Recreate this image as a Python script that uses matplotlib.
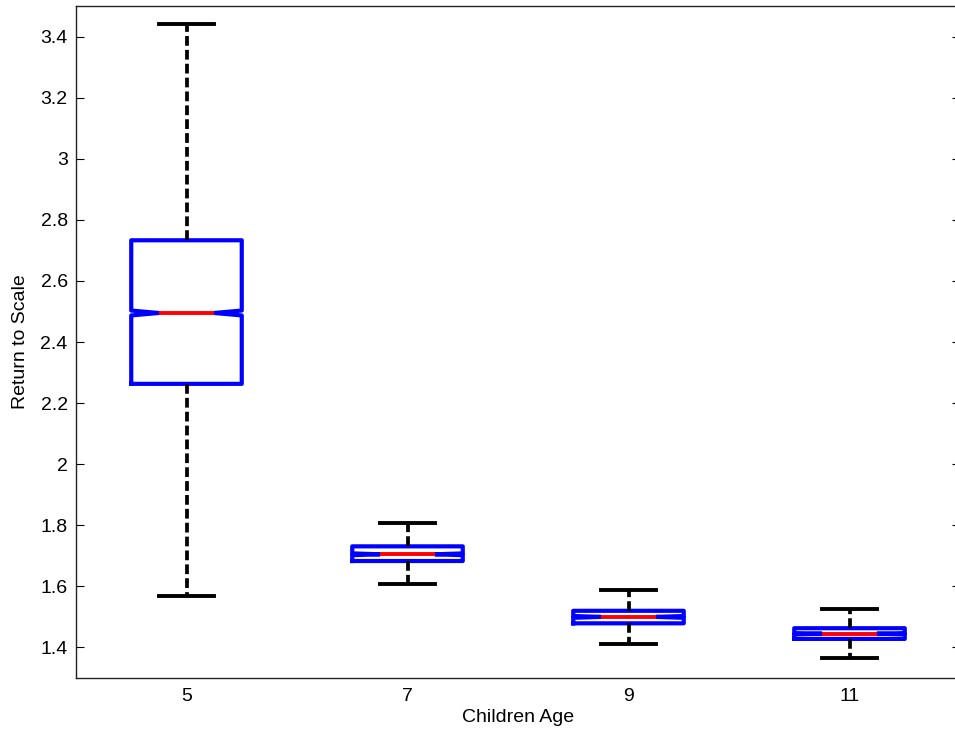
import matplotlib.pyplot as plt

plt.rcParams['font.family'] = ['Liberation Sans', 'DejaVu Sans']

ages = ['5', '7', '9', '11']
medians = [2.495, 1.705, 1.500, 1.445]
q1 = [2.263, 1.683, 1.479, 1.428]
q3 = [2.733, 1.731, 1.520, 1.463]
whisker_low = [1.567, 1.608, 1.412, 1.365]
whisker_high = [3.440, 1.806, 1.587, 1.525]
notch_low = [2.487, 1.702, 1.497, 1.443]
notch_high = [2.503, 1.708, 1.503, 1.447]

stats = []
for i in range(len(ages)):
    stats.append({'med': medians[i], 'q1': q1[i], 'q3': q3[i],
                  'whislo': whisker_low[i], 'whishi': whisker_high[i],
                  'cilo': notch_low[i], 'cihi': notch_high[i], 'fliers': []})

fig = plt.figure(figsize=(9.55, 7.32), dpi=100)
ax = fig.add_axes([76 / 955, 54 / 732, 884 / 955, 672 / 732])

ax.bxp(stats, positions=[1, 2, 3, 4], widths=0.5, shownotches=True, showfliers=False,
       boxprops=dict(color='blue', lw=3.0),
       whiskerprops=dict(color='black', lw=2.7, linestyle=(0, (2.6, 1.1))),
       capprops=dict(color='black', lw=2.8),
       medianprops=dict(color='red', lw=2.8))

ax.set_xlim(0.5, 4.5)
ax.set_ylim(1.3, 3.5)
ax.set_xticks([1, 2, 3, 4])
ax.set_xticklabels(ages)
ax.set_yticks([1.4, 1.6, 1.8, 2.0, 2.2, 2.4, 2.6, 2.8, 3.0, 3.2, 3.4])
ax.set_yticklabels(['1.4', '1.6', '1.8', '2', '2.2', '2.4', '2.6', '2.8', '3', '3.2', '3.4'])
ax.tick_params(axis='x', length=0, labelsize=14, pad=7)
ax.tick_params(axis='y', direction='in', length=6, width=0.8, right=True, labelsize=14, pad=6)
for sp in ax.spines.values():
    sp.set_linewidth(1.0)
    sp.set_color('#222222')

ax.set_xlabel('Children Age', fontsize=14, labelpad=3)
ax.set_ylabel('Return to Scale', fontsize=14, labelpad=8)

fig.savefig('out.png', dpi=100)
